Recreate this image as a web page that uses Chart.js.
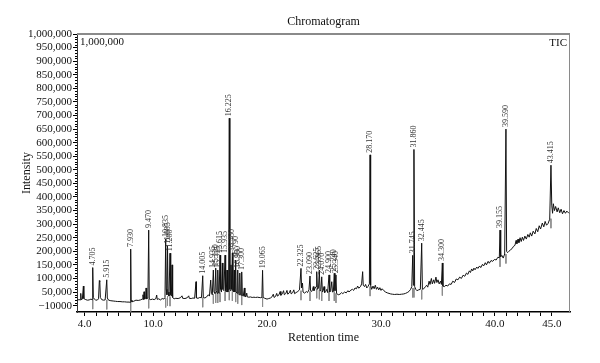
<!DOCTYPE html>
<html>
<head>
<meta charset="utf-8">
<script src="https://cdn.jsdelivr.net/npm/chart.js@4.4.1/dist/chart.umd.min.js"></script>
<style>
  html, body { margin: 0; padding: 0; background: #fff; }
  canvas { display: block; }
</style>
</head>
<body>
<canvas id="c" width="600" height="363"></canvas>
<script>
// ---- Data (x in axis units, y in intensity) ----
const tracePoints = [
  [3.33,20000],[3.50,22000],[3.62,21000],[3.66,45000],[3.70,22000],[3.80,24000],[3.89,72000],[3.93,26000],
  [4.10,22000],[4.25,20000],[4.40,21000],[4.55,24000],[4.66,22000],[4.71,140000],[4.76,30000],[4.85,24000],
  [4.95,21000],[5.10,20000],[5.22,25000],[5.29,92000],[5.33,88000],[5.38,30000],[5.50,22000],[5.65,20000],
  [5.80,21000],[5.94,95000],[5.99,28000],[6.10,20000],[6.30,18000],[6.50,17000],[6.70,16000],[6.90,15000],
  [7.10,15000],[7.30,14000],[7.50,14000],[7.70,13000],[7.90,13000],[8.00,12000],[8.04,208000],[8.08,20000],
  [8.15,14000],[8.30,16000],[8.50,20000],[8.70,19000],[8.90,21000],[9.05,24000],[9.12,40000],[9.17,22000],
  [9.21,51000],[9.26,24000],[9.35,26000],[9.39,65000],[9.44,25000],[9.55,28000],[9.62,278000],[9.67,24000],
  [9.80,22000],[9.95,24000],[10.10,22000],[10.25,26000],[10.32,39000],[10.37,23000],[10.50,25000],[10.65,21000],
  [10.80,26000],[10.95,24000],[11.05,30000],[11.11,245000],[11.16,60000],[11.22,40000],[11.27,220000],[11.32,50000],
  [11.40,35000],[11.49,193000],[11.55,40000],[11.61,35000],[11.67,150000],[11.72,30000],[11.85,25000],[12.00,27000],
  [12.20,26000],[12.40,29000],[12.54,36000],[12.60,27000],[12.80,26000],[13.00,29000],[13.13,36000],[13.18,27000],
  [13.35,26000],[13.50,28000],[13.65,27000],[13.77,88000],[13.81,28000],[13.95,27000],[14.10,30000],[14.25,29000],
  [14.36,110000],[14.41,30000],[14.55,28000],[14.70,32000],[14.85,40000],[14.95,35000],[15.06,94000],[15.12,45000],
  [15.20,40000],[15.29,131000],[15.35,50000],[15.43,45000],[15.50,138000],[15.55,55000],[15.62,45000],[15.68,131000],
  [15.73,50000],[15.80,45000],[15.88,186000],[15.93,60000],[16.00,50000],[16.08,157000],[16.13,60000],[16.22,55000],
  [16.32,186000],[16.37,55000],[16.43,50000],[16.49,131000],[16.55,50000],[16.63,55000],[16.69,690000],[16.74,60000],
  [16.79,55000],[16.84,150000],[16.89,60000],[16.96,194000],[17.01,55000],[17.07,50000],[17.13,131000],[17.18,50000],
  [17.25,168000],[17.30,50000],[17.37,45000],[17.43,131000],[17.48,45000],[17.55,40000],[17.61,120000],[17.66,40000],
  [17.72,38000],[17.78,124000],[17.83,38000],[17.92,35000],[18.01,65000],[18.06,34000],[18.15,33000],[18.22,46000],
  [18.27,32000],[18.40,31000],[18.55,32000],[18.70,30000],[18.85,31000],[19.00,30000],[19.15,31000],[19.30,30000],
  [19.45,29000],[19.55,30000],[19.61,130000],[19.66,30000],[19.80,27000],[20.00,24000],[20.15,26000],[20.30,28000],
  [20.45,33000],[20.55,42000],[20.62,30000],[20.75,34000],[20.85,45000],[20.92,35000],[21.05,40000],[21.15,52000],
  [21.22,38000],[21.35,44000],[21.45,55000],[21.52,40000],[21.65,45000],[21.75,56000],[21.82,42000],[21.95,47000],
  [22.05,57000],[22.12,43000],[22.25,48000],[22.35,58000],[22.42,44000],[22.55,48000],[22.70,52000],[22.85,58000],
  [22.98,137000],[23.03,65000],[23.11,83000],[23.16,50000],[23.30,46000],[23.45,52000],[23.55,48000],[23.68,58000],
  [23.77,109000],[23.82,55000],[23.92,52000],[24.00,60000],[24.06,70000],[24.12,55000],[24.20,62000],[24.30,70000],
  [24.36,125000],[24.42,60000],[24.52,65000],[24.59,131000],[24.65,55000],[24.73,60000],[24.80,106000],[24.86,50000],
  [24.93,55000],[25.00,70000],[25.06,48000],[25.15,52000],[25.25,60000],[25.32,48000],[25.44,113000],[25.50,50000],
  [25.58,55000],[25.68,88000],[25.74,50000],[25.82,52000],[25.90,119000],[25.96,55000],[26.05,113000],[26.10,45000],
  [26.25,40000],[26.40,42000],[26.55,48000],[26.65,44000],[26.80,50000],[26.95,47000],[27.10,55000],[27.20,50000],
  [27.35,57000],[27.50,60000],[27.60,56000],[27.72,65000],[27.85,62000],[27.95,72000],[28.05,64000],[28.20,70000],
  [28.30,80000],[28.39,125000],[28.44,75000],[28.55,70000],[28.65,78000],[28.75,65000],[28.85,70000],[28.98,80000],
  [29.04,555000],[29.09,75000],[29.18,60000],[29.30,72000],[29.40,62000],[29.50,75000],[29.60,60000],[29.70,68000],
  [29.80,58000],[29.90,66000],[30.00,56000],[30.10,62000],[30.25,55000],[30.40,50000],[30.55,47000],[30.70,45000],
  [30.85,43000],[31.00,42000],[31.20,41000],[31.40,42000],[31.60,41000],[31.80,42000],[32.00,43000],[32.15,45000],
  [32.30,48000],[32.45,52000],[32.60,60000],[32.70,70000],[32.78,185000],[32.84,75000],[32.89,575000],[32.95,70000],
  [33.05,60000],[33.15,55000],[33.30,58000],[33.45,60000],[33.57,230000],[33.63,60000],[33.75,62000],[33.90,70000],
  [34.00,75000],[34.10,68000],[34.22,90000],[34.30,78000],[34.42,100000],[34.50,80000],[34.62,95000],[34.70,82000],
  [34.82,105000],[34.90,85000],[35.00,95000],[35.10,80000],[35.22,90000],[35.30,78000],[35.38,157000],[35.43,72000],
  [35.55,70000],[35.70,75000],[35.85,72000],[36.00,80000],[36.15,78000],[36.30,90000],[36.45,85000],[36.60,98000],
  [36.75,95000],[36.90,105000],[37.05,100000],[37.20,112000],[37.35,108000],[37.50,120000],[37.62,115000],[37.75,128000],
  [37.85,122000],[37.95,135000],[38.05,128000],[38.15,138000],[38.25,132000],[38.40,142000],[38.50,137000],[38.65,146000],
  [38.75,140000],[38.90,152000],[39.00,146000],[39.15,158000],[39.25,150000],[39.40,163000],[39.50,156000],[39.65,166000],
  [39.80,163000],[39.95,170000],[40.10,168000],[40.25,178000],[40.38,176000],[40.44,278000],[40.50,180000],[40.60,185000],
  [40.72,175000],[40.85,190000],[40.96,650000],[41.02,200000],[41.10,195000],[41.22,200000],[41.35,205000],[41.50,210000],
  [41.62,218000],[41.75,222000],[41.85,240000],[41.92,228000],[42.02,245000],[42.10,232000],[42.20,250000],[42.30,236000],
  [42.40,252000],[42.50,240000],[42.62,256000],[42.75,245000],[42.88,262000],[43.00,252000],[43.10,268000],[43.22,256000],
  [43.35,274000],[43.50,264000],[43.62,284000],[43.75,272000],[43.88,294000],[44.00,282000],[44.15,304000],[44.28,290000],
  [44.40,310000],[44.52,296000],[44.65,302000],[44.80,318000],[44.91,517000],[44.98,370000],[45.05,340000],[45.12,375000],
  [45.22,350000],[45.32,365000],[45.45,345000],[45.55,360000],[45.68,342000],[45.80,355000],[45.92,338000],[46.05,350000],
  [46.18,340000],[46.30,348000],[46.49,340000]
];

const peakLabels = ['4.705','5.915','7.930','9.470','10.835','11.085','11.280','14.005',
  '14.935','15.130','15.315','15.615','15.935','16.225','16.480','16.790','16.960','17.300',
  '19.065','22.325','23.090','23.625','23.865','24.070','24.900','25.240','25.340',
  '28.170','31.745','31.860','32.445','34.300','39.155','39.590','43.415'];
const peakX = [4.71,5.94,8.04,9.62,11.11,11.27,11.49,14.36,
  15.29,15.50,15.68,15.88,16.32,16.69,16.96,17.25,17.43,17.78,
  19.61,22.98,23.77,24.36,24.59,24.80,25.44,25.90,26.05,
  29.04,32.78,32.89,33.57,35.38,40.44,40.96,44.91];
const peakTop = [140000,95000,208000,278000,245000,220000,193000,110000,
  131000,138000,131000,186000,186000,690000,194000,168000,131000,124000,
  130000,137000,109000,125000,131000,106000,113000,119000,113000,
  555000,185000,575000,230000,157000,278000,650000,517000];
const peakBase = [22000,21000,13000,25000,28000,35000,33000,29000,
  42000,45000,45000,48000,52000,55000,52000,48000,42000,37000,
  30000,55000,52000,62000,58000,52000,52000,52000,45000,
  70000,65000,65000,58000,72000,178000,190000,320000];

const xTickValues = [4,5,6,7,8,9,10,11,12,13,14,15,16,17,18,19,20,21,22,23,24,25,26,27,28,29,30,31,32,33,34,35,36,37,38,39,40,41,42,43,44,45];
const xLabelValues = [4,10,20,30,40,45];
const xLabelTexts = ['4.0','10.0','20.0','30.0','40.0','45.0'];
const yTickValues = [0,50000,100000,150000,200000,250000,300000,350000,400000,450000,500000,
  550000,600000,650000,700000,750000,800000,850000,900000,950000,1000000];
const yTickLabels = ['\u221210000','50,000','100,000','150,000','200,000','250,000','300,000','350,000',
  '400,000','450,000','500,000','550,000','600,000','650,000','700,000','750,000','800,000','850,000',
  '900,000','950,000','1,000,000'];

const SERIF = '"Liberation Serif", "DejaVu Serif", serif';
Chart.defaults.font.family = SERIF;
Chart.defaults.color = '#111';

const traceData = tracePoints.map(p => ({x: p[0], y: p[1]}));
const markerData = [];
peakX.forEach((x, i) => {
  markerData.push({x: x, y: peakBase[i]});
  markerData.push({x: x, y: peakBase[i] - 35000});
  markerData.push({x: x, y: null});
});

const decorPlugin = {
  id: 'decor',
  beforeDatasetsDraw(chart) {
    const {ctx, chartArea: a, scales: {y}} = chart;
    ctx.save();
    // minor ticks on y axis
    ctx.strokeStyle = '#000';
    ctx.lineWidth = 1;
    ctx.beginPath();
    for (let v = 0; v <= 1000000; v += 10000) {
      if (v % 50000 === 0) continue;
      const py = Math.round(y.getPixelForValue(v)) + 0.5;
      ctx.moveTo(a.left - 2, py);
      ctx.lineTo(a.left, py);
    }
    ctx.stroke();
    // top and right frame
    ctx.strokeStyle = '#8a8a8a';
    ctx.lineWidth = 2;
    ctx.beginPath();
    ctx.moveTo(a.left, a.top);
    ctx.lineTo(a.right, a.top);
    ctx.stroke();
    ctx.lineWidth = 1;
    ctx.beginPath();
    ctx.moveTo(a.right - 0.5, a.top);
    ctx.lineTo(a.right - 0.5, a.bottom);
    ctx.stroke();
    ctx.restore();
  },
  afterDraw(chart) {
    const {ctx, chartArea: a, scales: {x, y}} = chart;
    ctx.save();
    // title
    ctx.fillStyle = '#111';
    ctx.font = '12px ' + SERIF;
    ctx.textAlign = 'center';
    ctx.textBaseline = 'middle';
    ctx.fillText('Chromatogram', (a.left + a.right) / 2, 22);
    // inner labels
    ctx.font = '11px ' + SERIF;
    ctx.textAlign = 'left';
    ctx.fillText('1,000,000', a.left + 3, a.top + 8);
    ctx.textAlign = 'right';
    ctx.fillText('TIC', a.right - 3, a.top + 9);
    // peak labels
    ctx.fillStyle = '#333';
    ctx.font = '8px ' + SERIF;
    ctx.textAlign = 'left';
    ctx.textBaseline = 'middle';
    peakLabels.forEach((t, i) => {
      const px = x.getPixelForValue(peakX[i]);
      const py = y.getPixelForValue(peakTop[i]) - 2;
      ctx.save();
      ctx.translate(px, py);
      ctx.rotate(-Math.PI / 2);
      ctx.fillText(t, 0, 0);
      ctx.restore();
    });
    ctx.restore();
  }
};

new Chart(document.getElementById('c'), {
  type: 'line',
  data: {
    datasets: [
      {
        label: 'TIC',
        data: traceData,
        borderColor: '#111',
        borderWidth: 1,
        pointRadius: 0,
        tension: 0,
        fill: false,
        order: 1
      },
      {
        label: 'markers',
        data: markerData,
        borderColor: '#8c8c8c',
        borderWidth: 1,
        pointRadius: 0,
        spanGaps: false,
        fill: false,
        order: 2
      }
    ]
  },
  options: {
    responsive: false,
    animation: false,
    devicePixelRatio: 1,
    layout: { padding: { top: 34, right: 30, left: 0, bottom: 0 } },
    plugins: {
      legend: { display: false },
      title: { display: false },
      tooltip: { enabled: false }
    },
    scales: {
      x: {
        type: 'linear',
        min: 3.33,
        max: 46.58,
        afterBuildTicks(scale) { scale.ticks = xTickValues.map(v => ({value: v})); },
        afterFit(scale) { scale.height = 51; },
        ticks: {
          autoSkip: false,
          maxRotation: 0,
          padding: 2,
          font: { size: 11, family: SERIF },
          color: '#111',
          callback(v) { const k = xLabelValues.indexOf(v); return k >= 0 ? xLabelTexts[k] : ''; }
        },
        grid: { drawOnChartArea: false, drawTicks: true, tickLength: 4, color: '#000' },
        border: { display: true, color: '#000', width: 1.5 },
        title: {
          display: true,
          text: 'Retention time',
          font: { size: 12, family: SERIF },
          color: '#111',
          padding: { top: 0, bottom: 18 }
        }
      },
      y: {
        type: 'linear',
        min: -23500,
        max: 1000000,
        afterBuildTicks(scale) { scale.ticks = yTickValues.map(v => ({value: v})); },
        afterFit(scale) { scale.width = 77; },
        ticks: {
          autoSkip: false,
          padding: 1,
          font: { size: 11, family: SERIF },
          color: '#111',
          callback(v, i) { return yTickLabels[i]; }
        },
        grid: { drawOnChartArea: false, drawTicks: true, tickLength: 4, color: '#000' },
        border: { display: true, color: '#333', width: 1 },
        title: {
          display: true,
          text: 'Intensity',
          font: { size: 12, family: SERIF },
          color: '#111',
          padding: { top: 20, bottom: 0 }
        }
      }
    }
  },
  plugins: [decorPlugin]
});
</script>
</body>
</html>
